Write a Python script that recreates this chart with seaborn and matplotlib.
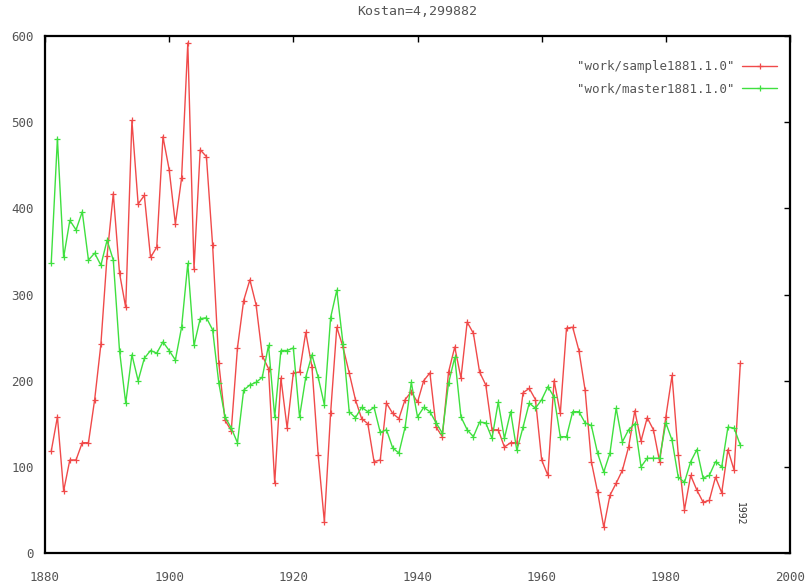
import numpy as np
import pandas as pd
import matplotlib
matplotlib.use("Agg")
import matplotlib.pyplot as plt
import seaborn as sns

years = list(range(1881, 1993))
sample_vals = [118, 158, 72, 108, 108, 128, 128, 178, 242, 345,
               417, 325, 285, 502, 405, 415, 343, 355, 483, 445,
               382, 435, 592, 330, 468, 460, 357, 220, 154, 142,
               238, 293, 317, 288, 229, 214, 81, 203, 145, 209,
               210, 256, 216, 114, 36, 162, 262, 239, 209, 178,
               156, 150, 106, 108, 174, 162, 156, 178, 187, 175,
               200, 209, 146, 135, 210, 239, 203, 268, 255, 210,
               195, 143, 143, 123, 128, 128, 186, 191, 178, 108,
               90, 200, 162, 261, 262, 235, 189, 106, 71, 30,
               67, 81, 96, 123, 165, 130, 157, 143, 106, 158,
               206, 114, 50, 90, 73, 59, 61, 88, 70, 120,
               96, 220]
master_vals = [336, 481, 343, 386, 375, 396, 340, 348, 334, 363,
               340, 235, 174, 230, 200, 226, 235, 232, 245, 235,
               224, 262, 336, 241, 272, 273, 259, 197, 158, 145,
               128, 189, 195, 198, 204, 241, 158, 235, 235, 238,
               158, 204, 230, 204, 172, 273, 305, 243, 164, 157,
               169, 164, 169, 140, 143, 122, 116, 146, 198, 158,
               169, 164, 151, 139, 197, 227, 158, 143, 135, 152,
               151, 133, 175, 133, 164, 119, 146, 174, 168, 178,
               193, 181, 135, 135, 164, 164, 151, 148, 116, 94,
               116, 168, 129, 143, 150, 100, 110, 110, 110, 151,
               131, 88, 82, 106, 120, 87, 90, 106, 100, 146,
               145, 125]
series_names = ['"work/sample1881.1.0"', '"work/master1881.1.0"']
title_text = "Kostan=4,299882"
x_ticks = [1880, 1900, 1920, 1940, 1960, 1980, 2000]
y_ticks = [0, 100, 200, 300, 400, 500, 600]
end_label = "1992"

df = pd.DataFrame({
    "year": years * 2,
    "value": sample_vals + master_vals,
    "series": [series_names[0]] * len(years) + [series_names[1]] * len(years),
})

sns.set_style("white")
plt.rcParams["font.family"] = ["DejaVu Sans Mono", "DejaVu Sans"]
plt.rcParams["xtick.direction"] = "in"
plt.rcParams["ytick.direction"] = "in"

fig = plt.figure(figsize=(8.07, 5.86), dpi=100)
ax = fig.add_axes([45 / 807, 33 / 586, (790 - 45) / 807, (553 - 36) / 586])

palette = {series_names[0]: "#f04a4a", series_names[1]: "#3fe03f"}
sns.lineplot(data=df, x="year", y="value", hue="series", palette=palette,
             marker="+", markersize=4, markeredgewidth=0.9, linewidth=1.0,
             ax=ax, legend=True)
for ln in ax.lines:
    ln.set_markeredgecolor(ln.get_color())

ax.set_xlim(1880, 2000)
ax.set_ylim(0, 600)
ax.set_xticks(x_ticks)
ax.set_yticks(y_ticks)
ax.set_xlabel("")
ax.set_ylabel("")
ax.tick_params(axis="both", labelsize=9, length=4, width=1.0,
               top=True, right=True, colors="#555555")
ax.tick_params(axis="both", color="black")
ax.tick_params(axis="x", pad=13)
ax.tick_params(axis="y", pad=8)
for s in ax.spines.values():
    s.set_color("black")
    s.set_linewidth(1.6)

ax.set_title(title_text, fontsize=9.5, color="#555555", pad=15)

leg = ax.legend(loc="upper right", frameon=False, markerfirst=False,
                fontsize=9, handlelength=2.8, bbox_to_anchor=(0.998, 0.975),
                labelspacing=0.75, handletextpad=0.6)
for t in leg.get_texts():
    t.set_color("#555555")
for h in leg.legend_handles:
    h.set_markeredgecolor(h.get_color())

ax.text(1992, 45, end_label, rotation=-90, fontsize=7, ha="center",
        va="center", color="#333333")

fig.savefig("out.png", dpi=100)
